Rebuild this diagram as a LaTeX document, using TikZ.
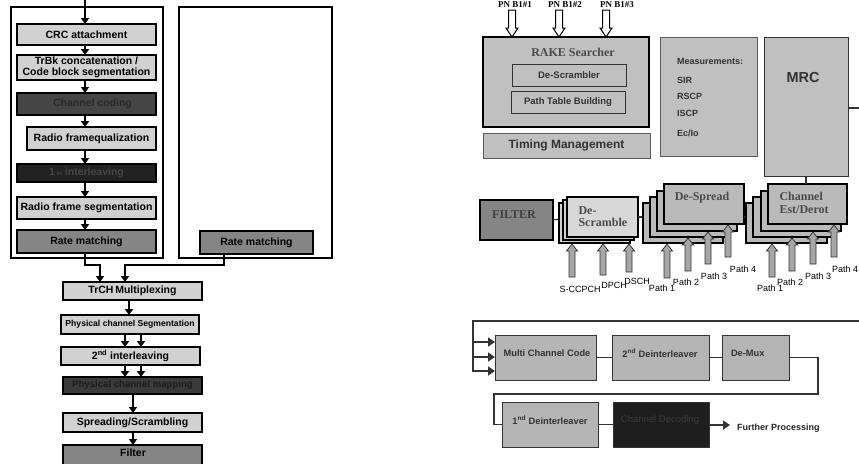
\documentclass[tikz,border=0pt]{standalone}
\usepackage{fontspec}
\setmainfont{Liberation Serif}
\setsansfont{Liberation Sans}
\usetikzlibrary{arrows.meta,calc}
\definecolor{lt}{HTML}{D1D1D1}
\definecolor{md}{HTML}{858585}
\definecolor{dkA}{HTML}{454545}
\definecolor{dkAt}{HTML}{2A2A2A}
\definecolor{dkB}{HTML}{222222}
\definecolor{dkBt}{HTML}{464646}
\definecolor{dkC}{HTML}{3A3A3A}
\definecolor{dkCt}{HTML}{1E1E1E}
\definecolor{gr}{HTML}{C0C0C0}
\definecolor{gs}{HTML}{BABABA}
\definecolor{gb}{HTML}{B5B5B5}
\definecolor{ln}{HTML}{333333}
\definecolor{tx}{HTML}{333333}
\definecolor{sr}{HTML}{4A4A4A}
\definecolor{cdf}{HTML}{1E1E1E}
\definecolor{cdt}{HTML}{3A3A3A}
\newcommand\bx[7]{\node[#1,minimum width={(#5-#3)*1pt},minimum height={(#6-#4)*1pt}] (#2) at ({(#3+#5)/2},{(#4+#6)/2}) {#7};}
\newcommand\hdown[3]{\draw[holw] ({#1-3.5},#2) -- ({#1-3.5},{#3-9}) -- ({#1-6},{#3-9}) -- (#1,#3) -- ({#1+6},{#3-9}) -- ({#1+3.5},{#3-9}) -- ({#1+3.5},#2) -- cycle;}
\newcommand\hup[3]{\draw[holg] ({#1-3},#2) -- ({#1-3},{#3+7}) -- ({#1-5.5},{#3+7}) -- (#1,#3) -- ({#1+5.5},{#3+7}) -- ({#1+3},{#3+7}) -- ({#1+3},#2) -- cycle;}
\tikzset{
  base/.style={inner sep=0pt,outer sep=0pt},
  frame/.style={base,draw=black,line width=1.3pt},
  lbox/.style={base,draw=black,line width=1.1pt,fill=lt,align=center,font=\sffamily\bfseries\fontsize{10.5}{10.5}\selectfont},
  mbox/.style={lbox,fill=md},
  dboxA/.style={lbox,fill=dkA,text=dkAt},
  dboxB/.style={lbox,fill=dkB,text=dkBt},
  dboxC/.style={lbox,fill=dkC,text=dkCt},
  arr/.style={line width=1.5pt,-{Triangle[width=8pt,length=6pt]}},
  rbox/.style={base,draw=ln,line width=1pt,fill=gr,text=tx,font=\sffamily\bfseries\fontsize{9.5}{10}\selectfont},
  serif/.style={font=\rmfamily\bfseries\fontsize{12}{12.5}\selectfont,text=sr,align=left},
  layer/.style={base,draw=black,line width=1.1pt,fill=gs},
  dlayer/.style={base,draw=black,line width=1.1pt,fill=lt},
  holw/.style={draw=black,line width=1pt,fill=white},
  holg/.style={draw=ln,line width=0.8pt,fill=gray!70},
  plab/.style={base,font=\sffamily\fontsize{9}{9}\selectfont,text=black},
  pnlab/.style={base,anchor=base,font=\rmfamily\bfseries\fontsize{9}{9}\selectfont},
  bbox/.style={base,draw=ln,line width=1pt,fill=gb},
  btxt/.style={base,font=\sffamily\bfseries\fontsize{9.3}{9.3}\selectfont,text=tx},
  lnb/.style={draw=ln,line width=1.2pt},
  barr/.style={draw=ln,line width=2.4pt,-{Triangle[width=9pt,length=7pt]}},
  mtx/.style={base,anchor=west,font=\sffamily\bfseries\fontsize{9}{9}\selectfont,text=tx}
}
\begin{document}
\begin{tikzpicture}[x=1pt,y=-1pt]
\useasboundingbox (0,0) rectangle (859,463);
\clip (0,0) rectangle (859,463);
% ---------------- left part ----------------
\bx{frame}{outA}{11}{7}{163}{258}{}
\bx{frame}{outB}{179}{7}{332}{258}{}
\bx{lbox}{crc}{17}{24}{156}{45}{CRC attachment}
\bx{lbox}{trbk}{17}{55}{156}{80}{TrBk concatenation /\\Code block segmentation}
\bx{dboxA}{cc}{17}{93}{156}{115}{\hspace*{12pt}Channel coding}
\bx{lbox}{rfe}{27}{127}{156}{150}{Radio framequalization}
\bx{dboxB}{il1}{17}{164}{156}{182}{1\,{\fontsize{6}{6}\selectfont st} interleaving}
\bx{lbox}{rfs}{17}{197}{156}{219}{Radio frame segmentation}
\bx{mbox}{ratel}{17}{230}{156}{253}{Rate matching}
\bx{mbox}{rater}{200}{231}{313}{254}{Rate matching}
\bx{lbox}{trch}{63}{282}{202}{300}{TrCH\,Multiplexing}
\bx{lbox,font=\sffamily\bfseries\fontsize{8.6}{9}\selectfont}{pseg}{61}{315}{199}{334}{Physical channel Segmentation}
\bx{lbox}{il2}{61}{347}{200}{365}{2\textsuperscript{nd} interleaving}
\bx{dboxC,font=\sffamily\bfseries\fontsize{9.6}{10}\selectfont}{pmap}{63}{377}{202}{394}{Physical channel mapping}
\bx{lbox}{spr}{63}{413}{202}{432}{Spreading/Scrambling}
\bx{mbox}{filt}{63}{445}{202}{466}{}
\node[base,font=\sffamily\bfseries\fontsize{10.5}{10.5}\selectfont] (filtt) at (133,453) {Filter};
\coordinate (cx) at (85,0);
\coordinate (top) at (85,0);
\draw[arr] (top) -- (crc.north -| cx);
\draw[arr] (crc.south -| cx) -- (trbk.north -| cx);
\draw[arr] (trbk.south -| cx) -- (cc.north -| cx);
\draw[arr] (cc.south -| cx) -- (rfe.north -| cx);
\draw[arr] (rfe.south -| cx) -- (il1.north -| cx);
\draw[arr] (il1.south -| cx) -- (rfs.north -| cx);
\draw[arr] (rfs.south -| cx) -- (ratel.north -| cx);
\coordinate (j1) at (100,265);
\coordinate (j2) at (125,265);
\coordinate (k2) at (224,265);
\draw[arr] (ratel.south -| cx) |- (j1) -- (j1 |- trch.north);
\draw[arr] (k2 |- rater.south) -- (k2) -- (j2) -- (j2 |- trch.north);
\coordinate (c129) at (129,0);
\coordinate (c125) at (125,0);
\coordinate (c140) at (141,0);
\coordinate (c133) at (133,0);
\draw[arr] (trch.south -| c129) -- (pseg.north -| c129);
\draw[arr] (pseg.south -| c125) -- (il2.north -| c125);
\draw[arr] (pseg.south -| c140) -- (il2.north -| c140);
\draw[arr] (il2.south -| c125) -- (pmap.north -| c125);
\draw[arr] (il2.south -| c140) -- (pmap.north -| c140);
\draw[arr] (pmap.south -| c133) -- (spr.north -| c133);
\draw[arr] (spr.south -| c133) -- (filt.north -| c133);
% ---------------- right top ----------------
\bx{base,draw=black,line width=1.8pt,fill=gr}{rake}{483}{37}{649}{127}{}
\node[serif] (raket) at (573,52) {RAKE Searcher};
\bx{rbox}{descr}{512}{64}{626}{86}{De-Scrambler}
\bx{rbox}{ptb}{511}{91}{625}{113}{Path Table Building}
\bx{rbox,draw=ln!80,font=\sffamily\bfseries\fontsize{12}{12}\selectfont}{timing}{483}{133}{650}{158}{Timing Management}
\bx{rbox,draw=ln!80}{meas}{660}{37}{757}{156}{}
\node[mtx] (m1) at (677,61) {Measurements:};
\node[mtx] (m2) at (677,80) {SIR};
\node[mtx] (m3) at (677,96) {RSCP};
\node[mtx] (m4) at (677,113) {ISCP};
\node[mtx] (m5) at (677,133) {Ec/Io};
\bx{rbox}{mrc}{764}{37}{848}{176}{}
\node[base,font=\sffamily\bfseries\fontsize{14.5}{14.5}\selectfont,text=tx] (mrct) at (803,78) {MRC};
\coordinate (mrcout) at (860,108);
\draw[draw=ln,line width=2.6pt] (mrc.east |- mrcout) -- (mrcout);
% PN labels and arrows
\node[pnlab] (pn1) at (515,8) {PN B1\#1};
\node[pnlab] (pn2) at (565,8) {PN B1\#2};
\node[pnlab] (pn3) at (617,8) {PN B1\#3};
\hdown{512}{10}{37}
\hdown{559}{10}{37}
\hdown{606}{10}{37}
% ---------------- middle row ----------------
\bx{base,draw=black,line width=1.6pt,fill=md}{filter}{480}{200}{553}{240}{}
\node[serif,text=black!75] (filtert) at (514,215) {FILTER};
\draw[draw=ln,line width=1.2pt] (filter.east) -- (567,218);
\bx{dlayer}{ds3}{559}{203}{630}{243}{}
\bx{dlayer}{ds2}{563}{200}{634}{240}{}
\bx{dlayer,fill=lt!85!white}{ds1}{567}{197}{638}{237}{}
\node[serif,anchor=north west] (dst) at (575,203) {De-\\Scramble};
\draw[draw=ln,line width=1.2pt] (ds1.east |- 0,217) -- (643,217);
\bx{layer}{sp4}{643}{203}{723}{243}{}
\bx{layer}{sp3}{650}{197}{730}{237}{}
\bx{layer}{sp2}{657}{191}{737}{231}{}
\bx{layer}{sp1}{664}{184}{744}{224}{}
\node[serif] (spt) at (702,198) {De-Spread};
\draw[draw=ln,line width=1.2pt] (sp1.east |- 0,217) -- (746,217);
\bx{layer}{ce4}{746}{203}{827}{243}{}
\bx{layer}{ce3}{753}{197}{834}{237}{}
\bx{layer}{ce2}{761}{191}{841}{231}{}
\bx{layer}{ce1}{768}{184}{847}{224}{}
\node[serif,anchor=north west] (cet) at (776,189) {Channel\\Est/Derot};
\draw[draw=ln,line width=1.2pt] (mrc.south -| 806,0) -- (ce1.north -| 806,0);
% up arrows
\hup{572}{277}{244}
\hup{603}{275}{244}
\hup{629}{272}{244}
\hup{667}{278}{244}
\hup{688}{271}{238}
\hup{708}{264}{232}
\hup{728}{257}{225}
\hup{772}{277}{244}
\hup{792}{271}{238}
\hup{813}{264}{232}
\hup{834}{257}{225}
\node[plab] (l1) at (580,289) {S-CCPCH};
\node[plab] (l2) at (614,285) {DPCH};
\node[plab] (l3) at (637,281) {DSCH};
\node[plab] (p1) at (662,288) {Path 1};
\node[plab] (p2) at (686,282) {Path 2};
\node[plab] (p3) at (714,276) {Path 3};
\node[plab] (p4) at (743,269) {Path 4};
\node[plab] (q1) at (770,288) {Path 1};
\node[plab] (q2) at (790,282) {Path 2};
\node[plab] (q3) at (818,276) {Path 3};
\node[plab] (q4) at (845,269) {Path 4};
% ---------------- bottom ----------------
\bx{bbox}{mcc}{495}{335}{596}{380}{}
\bx{bbox}{di2}{612}{335}{709}{380}{}
\bx{bbox}{demux}{722}{335}{789}{380}{}
\bx{bbox}{di1}{502}{402}{598}{447}{}
\bx{bbox,fill=cdf}{cdec}{613}{402}{709}{447}{}
\node[btxt] (mcct) at (547,353) {Multi Channel Code};
\node[btxt] (di2t) at (660,353) {2\textsuperscript{nd} Deinterleaver};
\node[btxt,anchor=west] (demuxt) at (731,353) {De-Mux};
\node[btxt] (di1t) at (550,420) {1\textsuperscript{nd} Deinterleaver};
\node[btxt,text=cdt,font=\sffamily\fontsize{9.5}{9.5}\selectfont] (cdect) at (660,420) {Channel Decoding};
\node[btxt,anchor=west,font=\sffamily\bfseries\fontsize{9}{9}\selectfont,text=black!85] (fp) at (737,428) {Further Processing};
\coordinate (loopin) at (860,321);
\coordinate (lx) at (473,321);
\draw[lnb] (loopin) -- (lx) -- (lx |- 0,372);
\draw[barr] (lx |- 0,342) -- (mcc.west |- 0,342);
\draw[barr] (lx |- 0,357) -- (mcc.west |- 0,357);
\draw[barr] (lx |- 0,371) -- (mcc.west |- 0,371);
\draw[lnb] (mcc.east) -- (di2.west);
\draw[lnb] (di2.east) -- (demux.west);
\coordinate (r1) at (818,394);
\coordinate (r2) at (494,394);
\draw[lnb] (demux.east) -| (r1) -- (r2) |- (di1.west);
\draw[lnb] (di1.east) -- (cdec.west);
\draw[barr] (cdec.east |- 0,425) -- (730,425);
\end{tikzpicture}
\end{document}
